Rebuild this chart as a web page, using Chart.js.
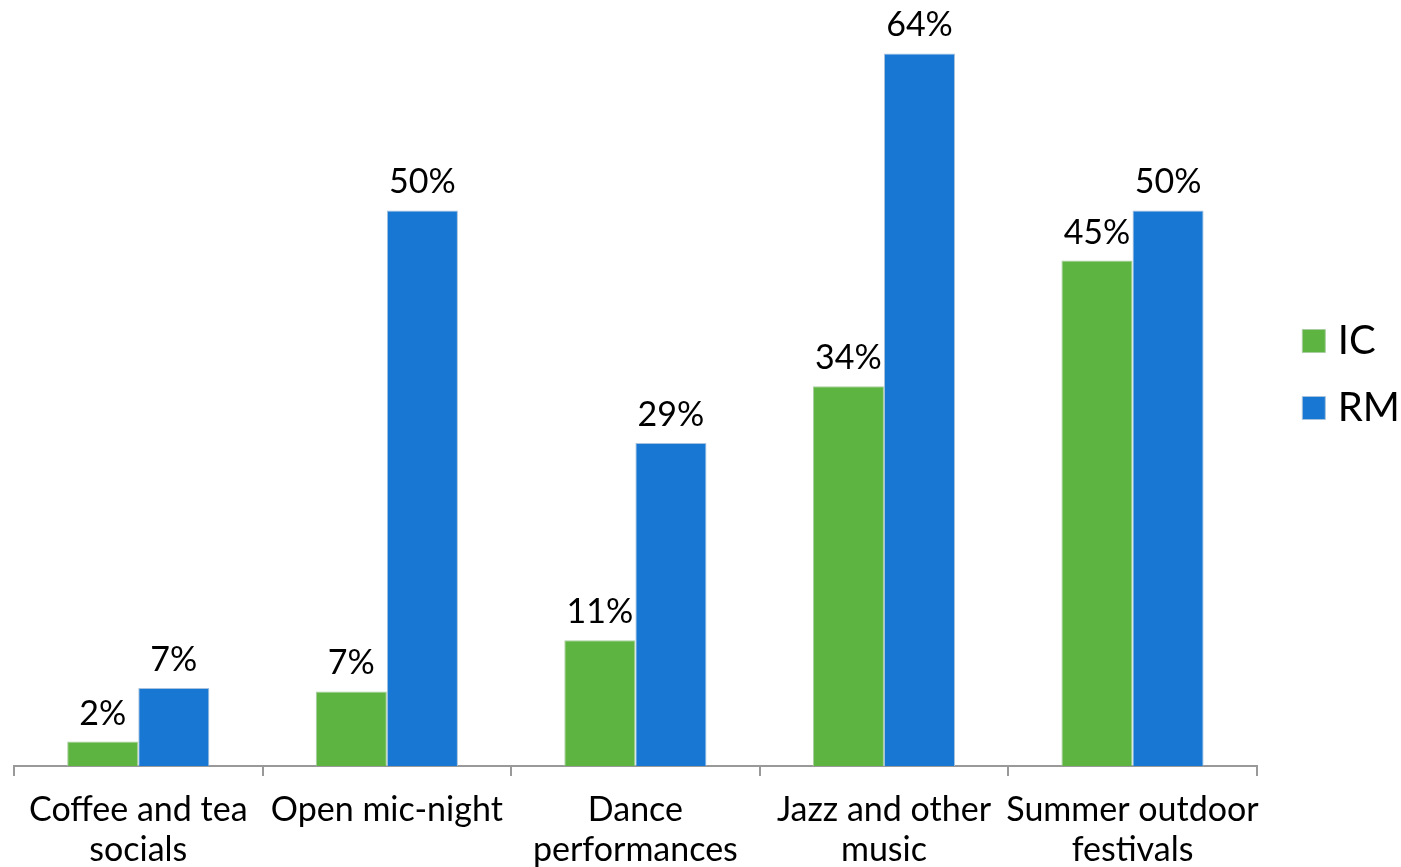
<!DOCTYPE html>
<html>
<head>
<meta charset="utf-8">
<script src="https://cdn.jsdelivr.net/npm/chart.js@4"></script>
<style>
html,body{margin:0;padding:0;background:#fff;}
#wrap{width:1401px;height:867px;}
</style>
</head>
<body>
<div id="wrap"><canvas id="c" width="1401" height="867"></canvas></div>
<script>
const categories = [["Coffee and tea","socials"],["Open mic-night"],["Dance","performances"],["Jazz and other","music"],["Summer outdoor","festivals"]];
const icValues = [2.2, 6.7, 11.3, 34.1, 45.4];
const rmValues = [7.0, 49.9, 29.0, 64.0, 49.9];
const seriesNames = ["IC","RM"];

const FONT = "Lato, 'Open Sans', sans-serif";

const valueLabels = {
  id: 'valueLabels',
  afterDatasetsDraw(chart) {
    const ctx = chart.ctx;
    ctx.save();
    ctx.font = "34px " + FONT;
    ctx.fillStyle = "#000";
    ctx.textAlign = "center";
    ctx.textBaseline = "alphabetic";
    chart.data.datasets.forEach((ds, di) => {
      const meta = chart.getDatasetMeta(di);
      meta.data.forEach((bar, i) => {
        ctx.fillText(Math.round(ds.data[i]) + "%", bar.x, bar.y - 17);
      });
    });
    ctx.restore();
  }
};

const legendShift = {
  id: 'legendShift',
  afterLayout(chart) {
    const L = chart.legend;
    if (!L) return;
    const dx = 26, dy = -59;
    L.left += dx; L.right += dx;
    L.top += dy; L.bottom += dy;
  }
};

new Chart(document.getElementById('c'), {
  type: 'bar',
  data: {
    labels: categories,
    datasets: [
      {label: seriesNames[0], data: icValues, backgroundColor: '#5EB440', borderColor: '#A9CDA0', borderWidth: 1},
      {label: seriesNames[1], data: rmValues, backgroundColor: '#1777D2', borderColor: '#A7C2DC', borderWidth: 1}
    ]
  },
  options: {
    responsive: false,
    animation: false,
    devicePixelRatio: 1,
    layout: {padding: {left: 14, top: 0, right: 17, bottom: 0}},
    datasets: {bar: {categoryPercentage: 0.572, barPercentage: 1.0}},
    plugins: {
      legend: {
        position: 'right',
        labels: {
          usePointStyle: true,
          pointStyle: 'rect',
          boxWidth: 8, boxHeight: 23, padding: 27,
          color: '#000',
          font: {family: FONT, size: 40}
        }
      },
      tooltip: {enabled: false}
    },
    scales: {
      x: {
        afterFit(scale) { scale.height = 101; },
        grid: {offset: true, drawOnChartArea: false, drawTicks: true, tickLength: 10, color: '#999', lineWidth: 2},
        border: {display: true, color: '#999', width: 2},
        ticks: {color: '#000', padding: 14, maxRotation: 0, autoSkip: false, font: {family: FONT, size: 34, lineHeight: 1.18}}
      },
      y: {
        display: false,
        min: 0,
        max: 68.8
      }
    }
  },
  plugins: [valueLabels, legendShift]
});
</script>
</body>
</html>
